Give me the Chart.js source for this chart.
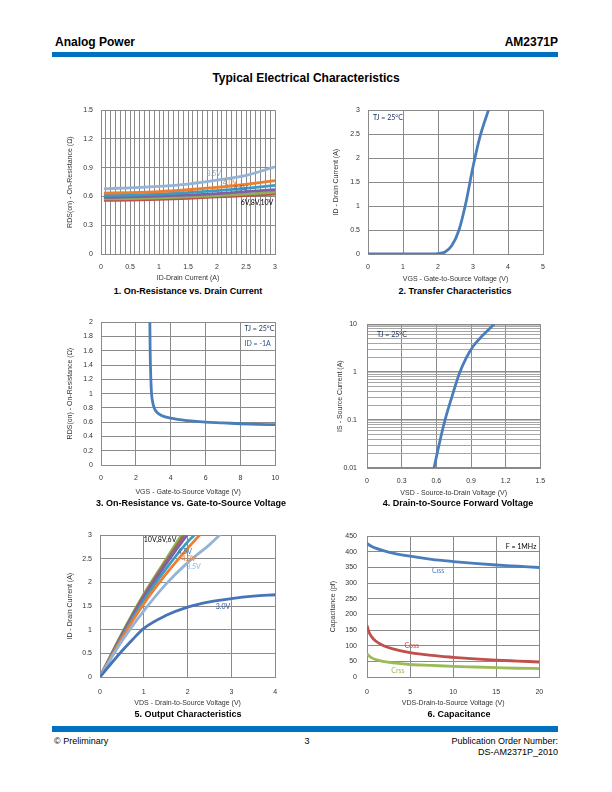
<!DOCTYPE html>
<html><head><meta charset="utf-8">
<script src="https://cdn.jsdelivr.net/npm/chart.js@4.4.1/dist/chart.umd.min.js"></script>
<style>
html,body{margin:0;padding:0;background:#fff;}
body{width:612px;height:792px;position:relative;overflow:hidden;font-family:'Liberation Sans',Arial,sans-serif;color:#000;}
.t{position:absolute;white-space:nowrap;}
.bar{position:absolute;background:#0070C0;}
.cv{position:absolute;}
.cap{position:absolute;font-weight:bold;font-size:9px;line-height:11px;white-space:nowrap;transform:translateX(-50%);}
</style></head><body>
<div class="t" style="left:55px;top:35px;font-size:12px;line-height:14px;font-weight:bold;">Analog Power</div>
<div class="t" style="right:54px;top:35px;font-size:12px;line-height:14px;font-weight:bold;">AM2371P</div>
<div class="bar" style="left:52px;top:52px;width:506px;height:5px;"></div>
<div class="t" style="left:306px;top:71px;font-size:12px;line-height:14px;font-weight:bold;transform:translateX(-50%);">Typical Electrical Characteristics</div>
<div class="bar" style="left:52px;top:726px;width:506px;height:6px;"></div>
<div class="t" style="left:54px;top:736px;font-size:9px;line-height:11px;">© Preliminary</div>
<div class="t" style="left:307px;top:736px;font-size:9px;line-height:11px;transform:translateX(-50%);">3</div>
<div class="t" style="right:54px;top:736px;font-size:9px;line-height:11px;text-align:right;">Publication Order Number:<br>DS-AM2371P_2010</div>
<script>
// ---------- DATA ----------
// Chart 1: On-Resistance vs Drain Current
const c1X = [0.05, 0.5, 1, 1.5, 2, 2.5, 3];
const c1_35V = [0.680, 0.690, 0.705, 0.730, 0.770, 0.820, 0.910];
const c1_40V = [0.635, 0.640, 0.650, 0.670, 0.695, 0.725, 0.765];
const c1_45V = [0.610, 0.615, 0.625, 0.640, 0.660, 0.685, 0.715];
const c1_6V  = [0.590, 0.595, 0.605, 0.615, 0.630, 0.650, 0.670];
const c1_8V  = [0.575, 0.578, 0.585, 0.595, 0.610, 0.625, 0.645];
const c1_10V = [0.560, 0.563, 0.570, 0.580, 0.595, 0.610, 0.625];
const c1XTicks = [0, 0.5, 1, 1.5, 2, 2.5, 3];
const c1YTicks = [0, 0.3, 0.6, 0.9, 1.2, 1.5];

// Chart 2: Transfer characteristics
const c2X = [0, 0.5, 1, 1.5, 2, 2.2, 2.4, 2.6, 2.8, 3.0, 3.2, 3.45];
const c2Y = [0, 0, 0, 0, 0.01, 0.04, 0.18, 0.5, 1.08, 1.82, 2.45, 3.02];
const c2XTicks = [0, 1, 2, 3, 4, 5];
const c2YTicks = [0, 0.5, 1, 1.5, 2, 2.5, 3];

// Chart 3: On-Resistance vs VGS
const c3X = [2.8, 2.82, 2.86, 2.9, 2.95, 3.05, 3.2, 3.5, 4, 5, 6, 7, 8, 9, 10];
const c3Y = [2.05, 1.6, 1.2, 1.0, 0.9, 0.8, 0.74, 0.69, 0.655, 0.62, 0.6, 0.59, 0.578, 0.57, 0.565];
const c3XTicks = [0, 2, 4, 6, 8, 10];
const c3YTicks = [0, 0.2, 0.4, 0.6, 0.8, 1, 1.2, 1.4, 1.6, 1.8, 2];

// Chart 4: Source-drain forward voltage (log)
const c4X = [0.58, 0.62, 0.67, 0.73, 0.8, 0.86, 0.92, 1.0, 1.1];
const c4Y = [0.01, 0.028, 0.09, 0.28, 0.95, 2.0, 3.5, 5.8, 10];
const c4XTicks = [0, 0.3, 0.6, 0.9, 1.2, 1.5];
const c4YTicks = [0.01, 0.1, 1, 10];

// Chart 5: Output characteristics
const c5_30X = [0, 0.25, 0.5, 0.75, 1, 1.5, 2, 2.5, 3, 3.5, 4];
const c5_30Y = [0, 0.28, 0.55, 0.8, 1.03, 1.3, 1.48, 1.59, 1.66, 1.71, 1.74];
const c5_35X = [0, 0.5, 1, 1.5, 2, 2.5, 2.75];
const c5_35Y = [0, 0.76, 1.4, 1.96, 2.42, 2.8, 3.02];
const c5_40X = [0, 0.5, 1, 1.5, 2, 2.3];
const c5_40Y = [0, 0.82, 1.55, 2.17, 2.72, 3.03];
const c5_45X = [0, 0.5, 1, 1.5, 2, 2.2];
const c5_45Y = [0, 0.85, 1.62, 2.28, 2.86, 3.04];
const c5_6VX = [0, 0.5, 1, 1.5, 2];
const c5_6VY = [0, 0.88, 1.68, 2.38, 3.02];
const c5_8VX = [0, 0.5, 1, 1.5, 1.93];
const c5_8VY = [0, 0.9, 1.72, 2.43, 3.02];
const c5_10VX = [0, 0.5, 1, 1.5, 1.87];
const c5_10VY = [0, 0.92, 1.75, 2.48, 3.02];
const c5XTicks = [0, 1, 2, 3, 4];
const c5YTicks = [0, 0.5, 1, 1.5, 2, 2.5, 3];

// Chart 6: Capacitance
const c6X = [0, 0.25, 0.5, 1, 2, 3, 5, 7.5, 10, 12.5, 15, 17.5, 20];
const c6Ciss = [427, 422, 418, 412, 403, 396, 386, 376, 369, 363, 358, 354, 350];
const c6Coss = [165, 142, 130, 115, 99, 90, 78, 69, 63, 58, 54, 51, 48];
const c6Crss = [74, 67, 62, 56, 49, 45, 40, 37, 34, 32, 30, 28, 27];
const c6XTicks = [0, 5, 10, 15, 20];
const c6YTicks = [0, 50, 100, 150, 200, 250, 300, 350, 400, 450];

// ---------- RENDERING ----------
const FONT = "'Liberation Sans', Arial, sans-serif";
const LFONT = "Lato, 'Open Sans', sans-serif";
const GRID = '#8a8a8a';
const fmt = v => String(Math.round(v * 1000) / 1000);
const isIn = (arr, v) => arr.some(t => Math.abs(t - v) < 1e-9 * Math.max(1, Math.abs(t)));
const pts = (xs, ys) => xs.map((x, i) => ({x, y: ys[i]}));

const textLabels = {
  id: 'textLabels',
  afterDatasetsDraw(chart, args, opts) {
    const {ctx} = chart; const x = chart.scales.x, y = chart.scales.y;
    (opts.items || []).forEach(it => {
      ctx.save();
      ctx.font = (it.font || '7px') + ' ' + LFONT;
      ctx.fillStyle = it.color || '#1F3864';
      ctx.textBaseline = 'middle'; ctx.textAlign = 'left';
      ctx.fillText(it.text, x.getPixelForValue(it.x), y.getPixelForValue(it.y));
      ctx.restore();
    });
  }
};

function ds(xs, ys, color) {
  return {data: pts(xs, ys), borderColor: color, backgroundColor: color, showLine: true,
    pointRadius: 0, borderWidth: 2.8, fill: false, cubicInterpolationMode: 'monotone'};
}

function makeChart(L, datasets, xs, ys, items) {
  const A = L.area;
  const box = {l: A.l - 56, t: A.t - 10, r: A.r + 12, b: L.xTitleY + 7};
  const div = document.createElement('div'); div.className = 'cv';
  Object.assign(div.style, {left: box.l + 'px', top: box.t + 'px', width: (box.r - box.l) + 'px', height: (box.b - box.t) + 'px'});
  const canvas = document.createElement('canvas'); div.appendChild(canvas); document.body.appendChild(div);
  const cap = document.createElement('div'); cap.className = 'cap'; cap.textContent = L.caption;
  cap.style.left = L.capX + 'px'; cap.style.top = (L.capY - 5.5) + 'px'; document.body.appendChild(cap);

  function scaleCfg(s, isX) {
    const gridVals = s.grid || s.ticks;
    return {
      type: s.type || 'linear', min: s.min, max: s.max,
      afterBuildTicks: sc => { sc.ticks = gridVals.map(v => ({value: v, major: isIn(s.ticks, v)})); },
      ticks: {autoSkip: false, maxRotation: 0, minRotation: 0, color: '#333',
        padding: isX ? (L.xLabelY - A.b - 4.2) : (A.l - L.yLabelR),
        font: {family: FONT, size: 7},
        callback: v => isIn(s.ticks, v) ? fmt(v) : ''},
      grid: {drawTicks: false,
        color: c => (s.minorColor && c.tick && !c.tick.major) ? s.minorColor : GRID,
        lineWidth: c => (s.minorColor && c.tick && c.tick.major) ? 1.4 : 1},
      border: {color: GRID, width: 1},
      title: {display: true, text: s.title, color: '#333', font: {family: FONT, size: 7},
        padding: isX ? {top: 0, bottom: box.b - L.xTitleY - 4.2} : {top: L.yTitleX - box.l - 4.2, bottom: 0}},
      afterFit: sc => { if (isX) sc.height = box.b - A.b; else sc.width = A.l - box.l; }
    };
  }
  return new Chart(canvas, {
    type: 'scatter',
    data: {datasets},
    plugins: [textLabels],
    options: {
      responsive: true, maintainAspectRatio: false, animation: false,
      layout: {padding: {left: 0, top: A.t - box.t, right: box.r - A.r, bottom: 0}},
      plugins: {legend: {display: false}, tooltip: {enabled: false}, textLabels: {items}},
      scales: {x: scaleCfg(xs, true), y: scaleCfg(ys, false)}
    }
  });
}

// grid helpers (gridlines only)
const c1XGrid = Array.from({length: 37}, (_, k) => k / 12);
const c4YGrid = [];
[0.01, 0.1, 1].forEach(d => { for (let m = 1; m <= 9; m++) c4YGrid.push(+(d * m).toPrecision(3)); });
c4YGrid.push(10);

makeChart(
  {area: {l: 101, t: 108, r: 275, b: 254}, yTitleX: 70, xTitleY: 278, xLabelY: 267, yLabelR: 93, capX: 188, capY: 291,
   caption: '1. On-Resistance vs. Drain Current'},
  [ds(c1X, c1_35V, '#95B3D7'), ds(c1X, c1_40V, '#ED7D31'), ds(c1X, c1_45V, '#3C9CC0'),
   ds(c1X, c1_6V, '#7F60A8'), ds(c1X, c1_8V, '#8DB255'), ds(c1X, c1_10V, '#C0504D')],
  {min: 0, max: 3, ticks: c1XTicks, grid: c1XGrid, title: 'ID-Drain Current (A)'},
  {min: 0, max: 1.5, ticks: c1YTicks, title: 'RDS(on) - On-Resistance (Ω)'},
  [{x: 1.82, y: 0.84, text: '3.5V', color: '#95B3D7'}, {x: 2.1, y: 0.743, text: '4.0V', color: '#ED7D31'},
   {x: 2.28, y: 0.678, text: '4.5V', color: '#2E75B6'}, {x: 2.41, y: 0.537, text: '6V,8V,10V', color: '#000'}]
);

makeChart(
  {area: {l: 368, t: 108, r: 543, b: 254}, yTitleX: 336, xTitleY: 279, xLabelY: 267, yLabelR: 360, capX: 455, capY: 291,
   caption: '2. Transfer Characteristics'},
  [ds(c2X, c2Y, '#4A7EBB')],
  {min: 0, max: 5, ticks: c2XTicks, title: 'VGS - Gate-to-Source Voltage (V)'},
  {min: 0, max: 3, ticks: c2YTicks, title: 'ID - Drain Current (A)'},
  [{x: 0.14, y: 2.84, text: 'TJ = 25°C', color: '#1F3864'}]
);

makeChart(
  {area: {l: 101, t: 320, r: 276, b: 465}, yTitleX: 70, xTitleY: 492, xLabelY: 478, yLabelR: 93, capX: 191, capY: 503,
   caption: '3. On-Resistance vs. Gate-to-Source Voltage'},
  [ds(c3X, c3Y, '#4A7EBB')],
  {min: 0, max: 10, ticks: c3XTicks, title: 'VGS - Gate-to-Source Voltage (V)'},
  {min: 0, max: 2, ticks: c3YTicks, title: 'RDS(on) - On-Resistance (Ω)'},
  [{x: 8.23, y: 1.91, text: 'TJ = 25°C', color: '#1F3864'}, {x: 8.23, y: 1.70, text: 'ID = -1A', color: '#2E5597'}]
);

makeChart(
  {area: {l: 367, t: 320, r: 542, b: 468}, yTitleX: 340, xTitleY: 493, xLabelY: 481, yLabelR: 357, capX: 458, capY: 503,
   caption: '4. Drain-to-Source Forward Voltage'},
  [ds(c4X, c4Y, '#4A7EBB')],
  {min: 0, max: 1.5, ticks: c4XTicks, title: 'VSD - Source-to-Drain Voltage (V)'},
  {type: 'logarithmic', min: 0.01, max: 10, ticks: c4YTicks, grid: c4YGrid, minorColor: '#a6a6a6', title: 'IS - Source Current (A)'},
  [{x: 0.086, y: 6.06, text: 'TJ = 25°C', color: '#1F3864'}]
);

makeChart(
  {area: {l: 100, t: 533, r: 276, b: 677}, yTitleX: 70, xTitleY: 703, xLabelY: 692, yLabelR: 92, capX: 188, capY: 714,
   caption: '5. Output Characteristics'},
  [ds(c5_30X, c5_30Y, '#4674B8'), ds(c5_35X, c5_35Y, '#95B3D7'), ds(c5_40X, c5_40Y, '#ED7D31'),
   ds(c5_45X, c5_45Y, '#3C9CC0'), ds(c5_6VX, c5_6VY, '#7F60A8'), ds(c5_8VX, c5_8VY, '#9C6B4E'), ds(c5_10VX, c5_10VY, '#8DB255')],
  {min: 0, max: 4, ticks: c5XTicks, title: 'VDS - Drain-to-Source Voltage (V)'},
  {min: 0, max: 3, ticks: c5YTicks, title: 'ID - Drain Current (A)'},
  [{x: 1.0, y: 2.91, text: '10V,8V,6V', color: '#000'}, {x: 1.77, y: 2.66, text: '4.5V', color: '#2E75B6'},
   {x: 1.86, y: 2.51, text: '4.0V', color: '#ED7D31'}, {x: 1.97, y: 2.34, text: '3.5V', color: '#95B3D7'},
   {x: 2.64, y: 1.49, text: '3.0V', color: '#2F5597'}]
);

makeChart(
  {area: {l: 367, t: 532, r: 542, b: 677}, yTitleX: 333, xTitleY: 703, xLabelY: 692, yLabelR: 357, capX: 459, capY: 714,
   caption: '6. Capacitance'},
  [ds(c6X, c6Ciss, '#4A7EBB'), ds(c6X, c6Coss, '#C0504D'), ds(c6X, c6Crss, '#9BBB59')],
  {min: 0, max: 20, ticks: c6XTicks, title: 'VDS-Drain-to-Source Voltage (V)'},
  {min: 0, max: 450, ticks: c6YTicks, title: 'Capacitance (pf)'},
  [{x: 16.1, y: 416, text: 'F = 1MHz', color: '#000'}, {x: 7.54, y: 339, text: 'Ciss', color: '#4A7EBB'},
   {x: 4.34, y: 100.7, text: 'Coss', color: '#C0504D'}, {x: 2.82, y: 20.4, text: 'Crss', color: '#9BBB59'}]
);
</script>
</body></html>
